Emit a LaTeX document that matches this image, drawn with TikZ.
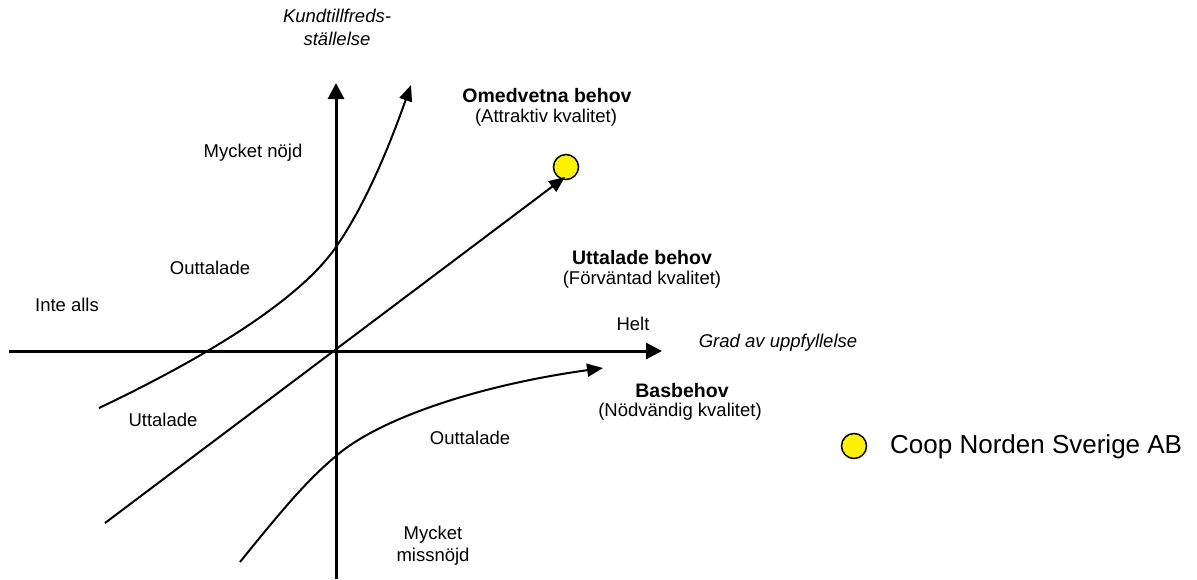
\documentclass[tikz,border=0pt]{standalone}
\usepackage{fontspec}
\setmainfont{Liberation Sans}
\usetikzlibrary{arrows.meta}

\tikzset{
  axis/.style={line width=3pt, -{Triangle[length=16pt,width=16pt]}},
  curve/.style={line width=2pt, -{Triangle[length=16pt,width=13pt]}},
  plain/.style={line width=2pt},
  lbl/.style={inner sep=0pt, font=\fontsize{18.5}{22}\selectfont, align=center},
  head/.style={inner sep=0pt, font=\fontsize{19.5}{22}\selectfont\bfseries, align=center},
  axlbl/.style={inner sep=0pt, font=\fontsize{18.5}{23}\selectfont\itshape, align=center},
  dot/.style={circle, draw=black, line width=1.5pt, fill=yellow, minimum size=25pt, inner sep=0pt},
  legend/.style={inner sep=0pt, font=\fontsize{26}{30}\selectfont, anchor=west}
}

\begin{document}
\begin{tikzpicture}[x=1pt, y=-1pt]
  \useasboundingbox (0,0) rectangle (1197,579);

  % axes
  \coordinate (o) at (336,351);
  \coordinate (xs) at (9,351);
  \coordinate (xe) at (662,351);
  \coordinate (ys) at (336,579);
  \coordinate (ye) at (336,83);
  \draw[axis] (xs) -- (xe);
  \draw[axis] (ys) -- (ye);

  % attractive quality curve
  \coordinate (a0) at (99,408);
  \coordinate (a1) at (336,247);
  \coordinate (a2) at (411,85);
  \draw[curve] (a0) .. controls (200,360) and (298,302) .. (a1)
                    .. controls (370,198) and (395,130) .. (a2);

  % expected quality line and company marker
  \node[dot] (coop) at (566,167) {};
  \coordinate (d0) at (105,523);
  \coordinate (d1) at (565,177);
  \draw[curve] (d0) -- (d1);

  % basic needs curve
  \coordinate (b0) at (240,562);
  \coordinate (b1) at (336,456);
  \coordinate (b2) at (603,368);
  \draw[curve] (b0) .. controls (290,500) and (310,478) .. (b1)
                    .. controls (380,418) and (480,385) .. (b2);

  % axis labels
  \node[axlbl] (ylab) at (337,27) {Kundtillfreds-\\ställelse};
  \node[axlbl] (xlab) at (778,343) {Grad av uppfyllelse};

  % category labels
  \node[head] (om) at (547,96) {Omedvetna behov};
  \node[lbl] (omq) at (546,118) {(Attraktiv kvalitet)};
  \node[head] (ut) at (642,258) {Uttalade behov};
  \node[lbl] (utq) at (642,280) {(Förväntad kvalitet)};
  \node[head] (bas) at (682,391) {Basbehov};
  \node[lbl] (basq) at (680,412) {(Nödvändig kvalitet)};

  % region labels
  \node[lbl] (mn) at (253,153) {Mycket nöjd};
  \node[lbl] (o1) at (210,268) {Outtalade};
  \node[lbl] (ia) at (67,305) {Inte alls};
  \node[lbl] (helt) at (633,324) {Helt};
  \node[lbl] (u1) at (163,420) {Uttalade};
  \node[lbl] (o2) at (470,438) {Outtalade};
  \node[lbl] (mm) at (433,546) {Mycket\\missnöjd};

  % legend
  \node[dot] (ldot) at (854,446) {};
  \node[legend] (ltext) at (890,447) {Coop Norden Sverige AB};
\end{tikzpicture}
\end{document}
